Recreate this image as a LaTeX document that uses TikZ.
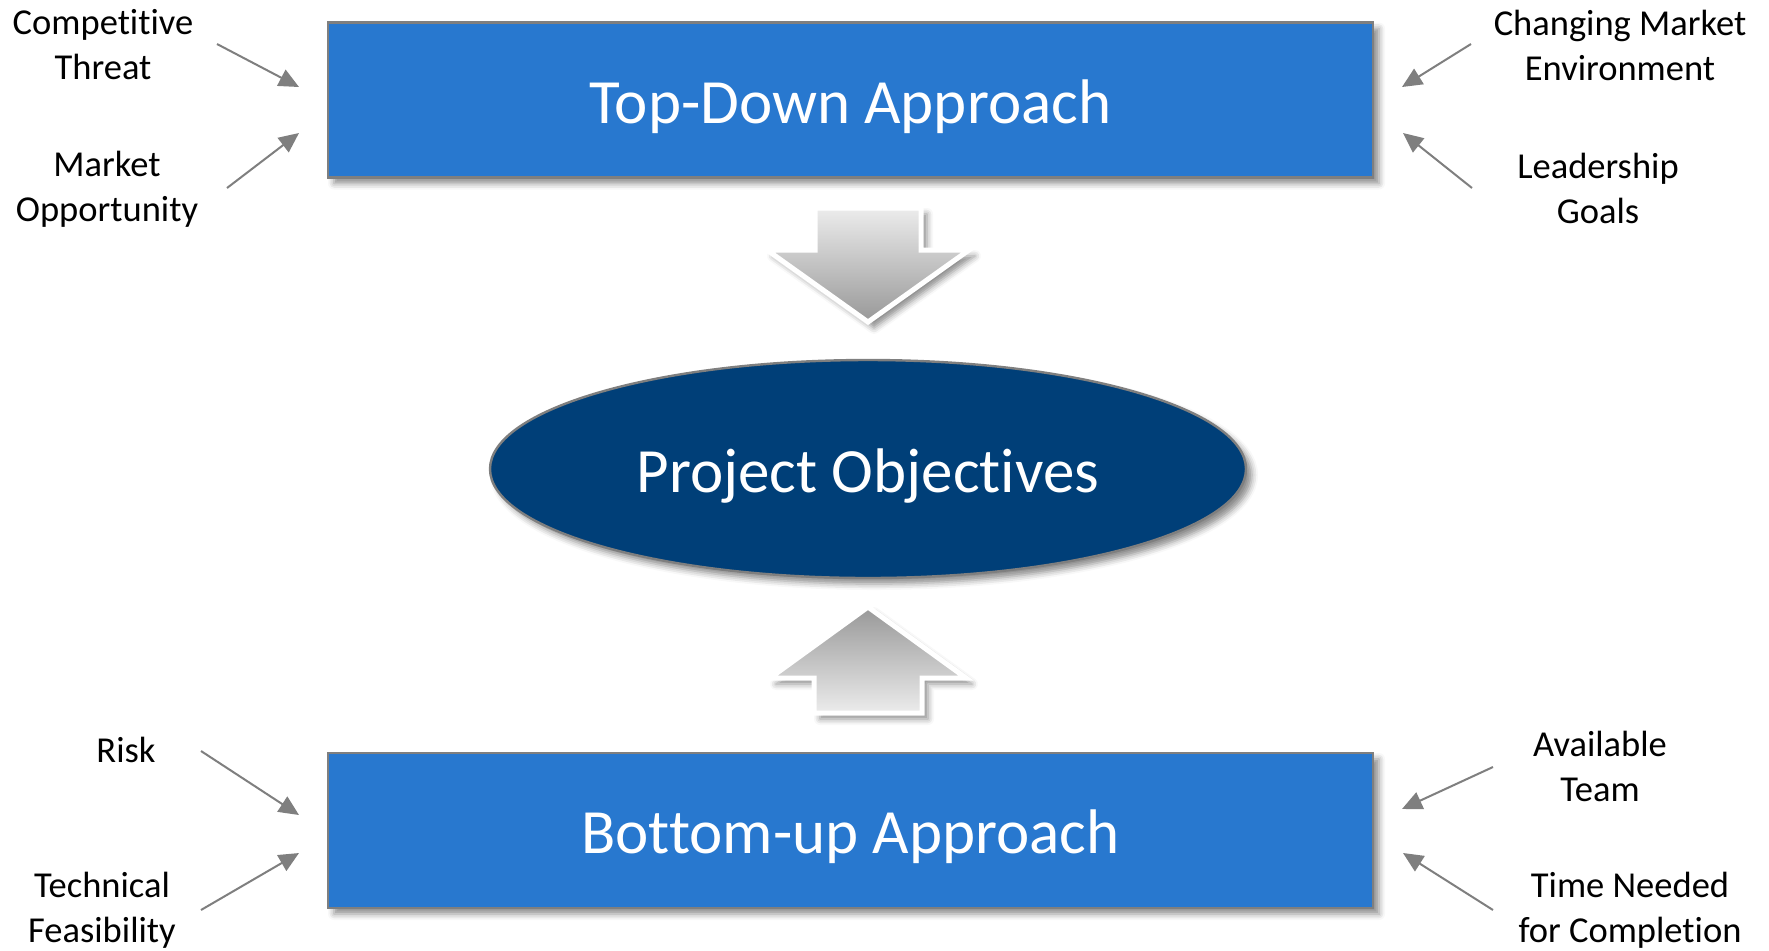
\documentclass[tikz,border=0pt]{standalone}
\usepackage{fontspec}
\setmainfont{Carlito}[RawFeature={-liga;-clig;-calt;-dlig}]
\usetikzlibrary{shapes.geometric,shadows.blur,arrows.meta}
\definecolor{BoxBlue}{HTML}{2878CF}
\definecolor{GoalNavy}{HTML}{003F78}
\definecolor{EdgeGrey}{HTML}{7F7F7F}
\definecolor{FlowLight}{HTML}{ECECEC}
\definecolor{FlowDark}{HTML}{989898}
\tikzset{
  softshadow/.style={blur shadow={shadow xshift=3pt, shadow yshift=-3pt, shadow blur radius=3pt, shadow opacity=45}},
  approach/.style={draw=EdgeGrey, line width=1.2pt, fill=BoxBlue, minimum width=522.5pt, minimum height=77.5pt, text=white, text height=25pt, text depth=2pt, font=\fontsize{31.5}{38}\selectfont, softshadow},
  goal/.style={ellipse, draw=EdgeGrey, line width=1.2pt, fill=GoalNavy, minimum width=378pt, minimum height=109pt, inner sep=0pt, text=white, text height=25pt, text depth=2pt, font=\fontsize{31.5}{38}\selectfont, softshadow},
  factor/.style={align=center, font=\fontsize{18.25}{22.5}\selectfont},
  feed/.style={draw=EdgeGrey, line width=1pt, -{Triangle[length=10pt,width=9pt]}},
  flow/.style={draw=white, line width=2.5pt, line join=miter, softshadow}
}

\begin{document}
\begin{tikzpicture}[x=0.5pt, y=-0.5pt]%
\useasboundingbox (0,0) rectangle (1769,950);%
% boxes
\node[approach] (topdown) at (850.5,100) {Top-Down Approach};%
\node[approach] (bottomup) at (850.5,830.5) {Bottom-up Approach};%
\node[goal] (objectives) at (868,469) {Project Objectives};%
% block arrows
\path[flow, top color=FlowLight, bottom color=FlowDark] (815,208) -- (921,208) -- (921,250) -- (969,250) -- (868,322) -- (767,250) -- (815,250) -- cycle;%
\path[flow, top color=FlowDark, bottom color=FlowLight] (868,607) -- (966,678) -- (922,678) -- (922,713) -- (814,713) -- (814,678) -- (770,678) -- cycle;%
% factors at the top
\node[factor] (threat) at (103,45) {Competitive\\Threat};%
\node[factor] (opportunity) at (107,189) {Market\\Opportunity};%
\node[factor] (environment) at (1620,45) {Changing Market\\Environment};%
\node[factor] (leadership) at (1598,188) {Leadership\\Goals};%
% factors at the bottom
\node[factor] (risk) at (126,750) {Risk};%
\node[factor] (feasibility) at (102,910) {Technical\\Feasibility};%
\node[factor] (team) at (1600,766) {Available\\Team};%
\node[factor] (time) at (1630,910) {Time Needed\\for Completion};%
% arrow ends
\coordinate (threatTail) at (217,44);%
\coordinate (threatTip) at (299,87);%
\coordinate (opportunityTail) at (227,188);%
\coordinate (opportunityTip) at (299,133);%
\coordinate (environmentTail) at (1471,44);%
\coordinate (environmentTip) at (1402,87);%
\coordinate (leadershipTail) at (1472,188);%
\coordinate (leadershipTip) at (1403,133);%
\coordinate (riskTail) at (201,751);%
\coordinate (riskTip) at (299,815);%
\coordinate (feasibilityTail) at (201,910);%
\coordinate (feasibilityTip) at (299,853);%
\coordinate (teamTail) at (1493,767);%
\coordinate (teamTip) at (1402,809);%
\coordinate (timeTail) at (1493,910);%
\coordinate (timeTip) at (1403,853);%
\draw[feed] (threatTail) -- (threatTip);%
\draw[feed] (opportunityTail) -- (opportunityTip);%
\draw[feed] (environmentTail) -- (environmentTip);%
\draw[feed] (leadershipTail) -- (leadershipTip);%
\draw[feed] (riskTail) -- (riskTip);%
\draw[feed] (feasibilityTail) -- (feasibilityTip);%
\draw[feed] (teamTail) -- (teamTip);%
\draw[feed] (timeTail) -- (timeTip);%
\end{tikzpicture}
\end{document}
